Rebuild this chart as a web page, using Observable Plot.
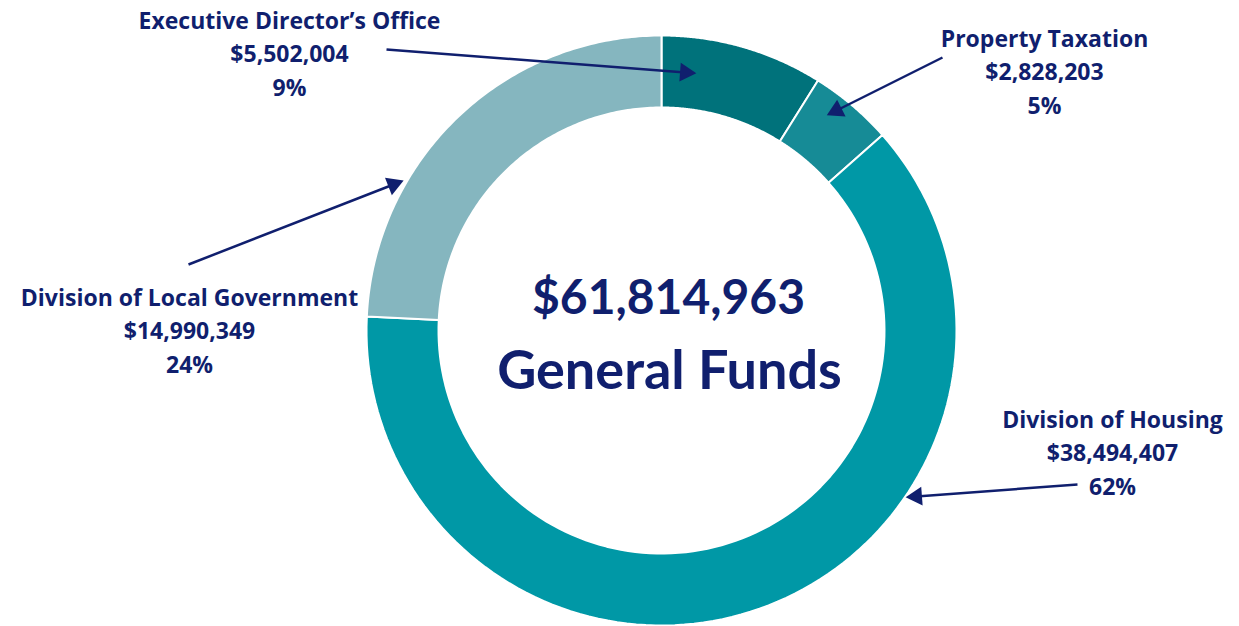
<!DOCTYPE html>
<html>
<head>
<meta charset="utf-8">
<script src="https://cdn.jsdelivr.net/npm/d3@7"></script>
<script src="https://cdn.jsdelivr.net/npm/@observablehq/plot@0.6"></script>
<style>
  html, body { margin: 0; padding: 0; background: #fff; }
  #chart svg { display: block; }
</style>
</head>
<body>
<div id="chart"></div>
<script>
// ---- data ----
const categories = ["Executive Director’s Office", "Property Taxation", "Division of Housing", "Division of Local Government"];
const amounts = [5502004, 2828203, 38494407, 14990349];
const percentLabels = ["9%", "5%", "62%", "24%"];
const colors = ["#00727b", "#168b96", "#0098a6", "#85b6bf"];
const totalLabel = "$61,814,963";
const centerCaption = "General Funds";

// ---- layout (pixels) ----
const W = 1239, H = 626;
const cx = 661, cy = 330, rOuter = 295, rInner = 223;
// label block centers, same order as categories
const labelPos = [
  {x: 289, y: 51},
  {x: 1044, y: 69},
  {x: 1112, y: 450},
  {x: 189, y: 328}
];
const arrows = [
  {x1: 386, y1: 49, x2: 685, y2: 72},
  {x1: 942, y1: 57, x2: 836, y2: 110},
  {x1: 1077, y1: 484, x2: 916, y2: 496},
  {x1: 188, y1: 264, x2: 393, y2: 184}
];
const navy = "#101f6e";

const fmt = d3.format("$,");
const pie = d3.pie().sort(null).value(d => d)(amounts);

// polygon points for each ring slice
const pts = [];
pie.forEach((p, i) => {
  const n = 120;
  for (let k = 0; k <= n; k++) {
    const a = p.startAngle + (p.endAngle - p.startAngle) * k / n;
    pts.push({cat: categories[i], x: cx + rOuter * Math.sin(a), y: cy - rOuter * Math.cos(a)});
  }
  for (let k = n; k >= 0; k--) {
    const a = p.startAngle + (p.endAngle - p.startAngle) * k / n;
    pts.push({cat: categories[i], x: cx + rInner * Math.sin(a), y: cy - rInner * Math.cos(a)});
  }
  pts.push({cat: categories[i], x: cx + rOuter * Math.sin(p.startAngle), y: cy - rOuter * Math.cos(p.startAngle)});
});

const labels = categories.map((c, i) => ({
  text: `${c}\n${fmt(amounts[i])}\n${percentLabels[i]}`,
  x: labelPos[i].x, y: labelPos[i].y
}));

const arrowData = arrows.map(a => ({...a, rot: Math.atan2(a.x2 - a.x1, -(a.y2 - a.y1)) * 180 / Math.PI}));

const chart = Plot.plot({
  width: W, height: H,
  margin: 0,
  x: {domain: [0, W], range: [0, W], axis: null},
  y: {domain: [0, H], range: [0, H], axis: null},
  color: {domain: categories, range: colors},
  style: {fontFamily: "'Open Sans', Lato, sans-serif", background: "#fff"},
  marks: [
    Plot.line(pts, {x: "x", y: "y", z: "cat", fill: "cat", stroke: "#ffffff", strokeWidth: 2, curve: "linear"}),
    Plot.link(arrowData, {x1: "x1", y1: "y1", x2: "x2", y2: "y2", stroke: navy, strokeWidth: 2.5}),
    Plot.dot(arrowData, {x: "x2", y: "y2", symbol: "triangle", r: 7, fill: navy, stroke: "none", rotate: "rot"}),
    Plot.text(labels, {x: "x", y: "y", text: "text", fill: navy, fontSize: 23, fontWeight: "bold", lineHeight: 1.46, lineAnchor: "middle", textAnchor: "middle"}),
    Plot.text([totalLabel], {x: () => 668, y: () => 298, text: d => d, fill: navy, fontSize: 48, fontWeight: "bold", fontFamily: "Lato, sans-serif", textAnchor: "middle"}),
    Plot.text([centerCaption], {x: () => 669, y: () => 371, text: d => d, fill: navy, fontSize: 54, fontWeight: "bold", fontFamily: "Lato, sans-serif", textAnchor: "middle"})
  ]
});
document.getElementById("chart").appendChild(chart);
</script>
</body>
</html>
